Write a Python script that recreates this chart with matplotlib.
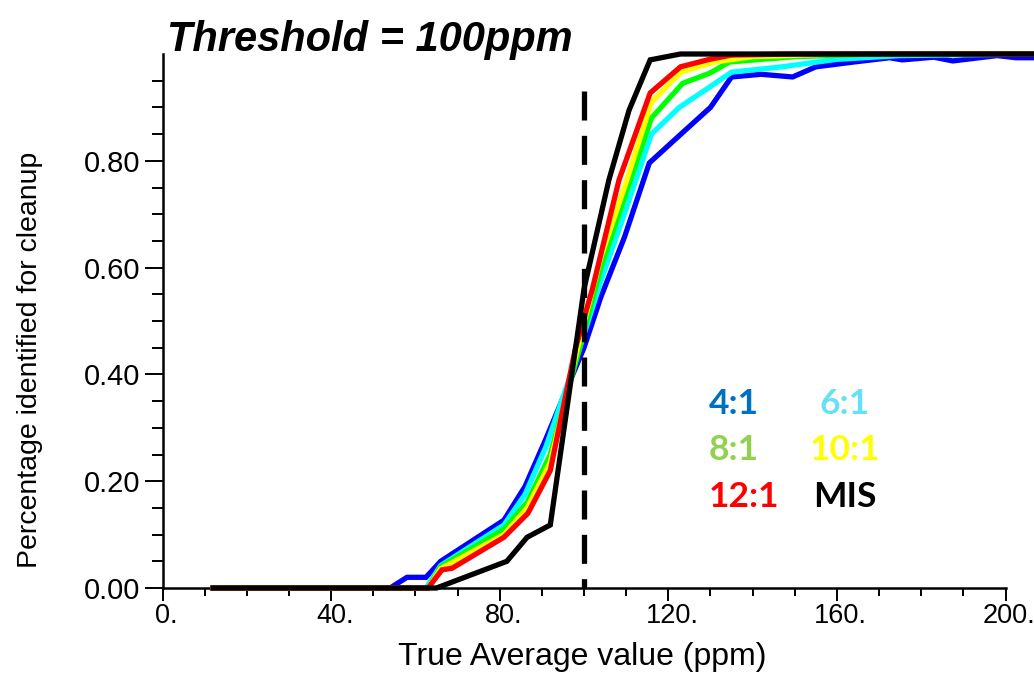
import matplotlib
matplotlib.use("Agg")
import matplotlib.pyplot as plt
import matplotlib.transforms as mtransforms
from matplotlib.ticker import FixedLocator

# ---------------- data ----------------
x_4to1 = [12, 54, 58, 62.5, 66, 81, 86, 91, 100, 104, 109.6, 115.5, 123, 130, 135, 142,
          149.5, 155, 164, 172.5, 175.5, 183, 187.5, 198, 202.5, 207.5]
y_4to1 = [0, 0, 0.02, 0.02, 0.05, 0.127, 0.19, 0.28, 0.45, 0.545, 0.657, 0.796, 0.85, 0.90,
          0.957, 0.962, 0.957, 0.976, 0.985, 0.993, 0.989, 0.994, 0.987, 0.997, 0.993, 0.993]

x_6to1 = [12, 62.5, 66, 81, 86, 91, 99, 104, 110, 116, 122.6, 129.8, 135, 147, 160, 175, 207.5]
y_6to1 = [0, 0, 0.042, 0.118, 0.175, 0.265, 0.45, 0.575, 0.71, 0.85, 0.90, 0.938, 0.966,
          0.976, 0.99, 0.997, 1.0]

x_8to1 = [12, 63, 66, 81, 86.5, 92, 99, 104, 110, 116, 123.4, 129.8, 134.5, 150, 170, 207.5]
y_8to1 = [0, 0, 0.04, 0.11, 0.16, 0.25, 0.45, 0.60, 0.74, 0.88, 0.945, 0.964, 0.985,
          0.995, 1.0, 1.0]

x_10to1 = [12, 63, 66, 81, 86.5, 92, 98.5, 104, 110, 116, 123, 131, 140, 160, 207.5]
y_10to1 = [0, 0, 0.036, 0.10, 0.15, 0.235, 0.45, 0.62, 0.76, 0.91, 0.966, 0.985, 0.995,
           1.0, 1.0]

x_12to1 = [12, 63, 66.3, 68.7, 81, 86.7, 92, 98, 102, 108.3, 115.7, 122.9, 129.8, 135, 150, 207.5]
y_12to1 = [0, 0, 0.034, 0.037, 0.095, 0.14, 0.22, 0.45, 0.56, 0.764, 0.927, 0.976, 0.99,
           0.998, 1.0, 1.0]

x_mis = [12, 65, 81.7, 86.5, 92, 100, 105.9, 110.7, 115.7, 122.9, 207.5]
y_mis = [0, 0, 0.05, 0.095, 0.118, 0.56, 0.764, 0.895, 0.989, 1.0, 1.0]

threshold = 100
threshold_top = 0.93

series_labels = ["4:1", "6:1", "8:1", "10:1", "12:1", "MIS"]
line_colors = ["#0000FF", "#00FFFF", "#00FF00", "#FFFF00", "#FF0000", "#000000"]
text_colors = ["#0070C0", "#66E0F5", "#92D050", "#FFFF00", "#FF0000", "#000000"]

x_major = [0, 40, 80, 120, 160, 200]
x_major_labels = ["0.", "40.", "80.", "120.", "160.", "200."]
x_minor = list(range(0, 201, 10))
y_major = [0.0, 0.2, 0.4, 0.6, 0.8]
y_major_labels = ["0.00", "0.20", "0.40", "0.60", "0.80"]
y_minor = [i * 0.05 for i in range(0, 20)]

title = "Threshold = 100ppm"
xlabel = "True Average value (ppm)"
ylabel = "Percentage identified for cleanup"

# ---------------- figure ----------------
W, H = 1034, 675
fig = plt.figure(figsize=(W / 100, H / 100), dpi=100)
ax = fig.add_axes([162.5 / W, 1 - 588 / H, 843 / W, 534 / H])

xs = [x_4to1, x_6to1, x_8to1, x_10to1, x_12to1, x_mis]
ys = [y_4to1, y_6to1, y_8to1, y_10to1, y_12to1, y_mis]
for x, y, c in zip(xs, ys, line_colors):
    ax.plot(x, y, color=c, lw=3.8, clip_on=False, solid_joinstyle="miter", zorder=3)

ax.plot([threshold, threshold], [threshold_top, 0], color="black", lw=3.8,
        linestyle=(0, (5.5, 2.9)), dash_capstyle="butt", zorder=4)

ax.set_xlim(0, 200)
ax.set_ylim(0, 1.0)
for s in ["top", "right"]:
    ax.spines[s].set_visible(False)
for s in ["left", "bottom"]:
    ax.spines[s].set_linewidth(1.8)
    ax.spines[s].set_zorder(2)

ax.xaxis.set_major_locator(FixedLocator(x_major))
ax.xaxis.set_minor_locator(FixedLocator(x_minor))
ax.set_xticklabels(x_major_labels)
ax.yaxis.set_major_locator(FixedLocator(y_major))
ax.yaxis.set_minor_locator(FixedLocator(y_minor))
ax.set_yticklabels(y_major_labels)

ax.tick_params(axis="x", which="major", direction="out", length=9, width=1.4, pad=2,
               labelsize=19.5)
ax.tick_params(axis="x", which="minor", direction="out", length=6, width=1.4)
ax.tick_params(axis="y", which="major", direction="out", length=13, width=1.4, pad=3,
               labelsize=21)
ax.tick_params(axis="y", which="minor", direction="out", length=8, width=1.4)
for lab in ax.get_xticklabels() + ax.get_yticklabels():
    lab.set_fontfamily("Liberation Sans")

# Shift x tick labels so that the digits (not the trailing period) center on the tick
offset = mtransforms.ScaledTranslation(2.7 / 72, 0, fig.dpi_scale_trans)
for lab in ax.get_xticklabels():
    lab.set_transform(lab.get_transform() + offset)

ax.set_xlabel(xlabel, fontsize=23, family="Liberation Sans")
ax.xaxis.set_label_coords(0.498, -0.129)
ax.xaxis.label.set_va("center")
ax.set_ylabel(ylabel, fontsize=20.5, family="Liberation Sans")
ax.yaxis.set_label_coords(-0.157, 0.427)
ax.yaxis.label.set_va("center")

fig.text(167 / W, 1 - 51 / H, title, fontsize=30, fontweight="bold", fontstyle="italic",
         family="Liberation Sans", ha="left", va="baseline")

# colored text legend
left_col_x = 709
right_col_x = 845
row_y = [404, 450, 497]
legend_font = dict(family="Lato", fontweight="bold", fontsize=25.5, va="center")
for i, (lab, col) in enumerate(zip(series_labels, text_colors)):
    r = i // 2
    if i % 2 == 0:
        fig.text(left_col_x / W, 1 - row_y[r] / H, lab, color=col, ha="left", **legend_font)
    else:
        fig.text(right_col_x / W, 1 - row_y[r] / H, lab, color=col, ha="center", **legend_font)

fig.savefig("out.png", dpi=100)
